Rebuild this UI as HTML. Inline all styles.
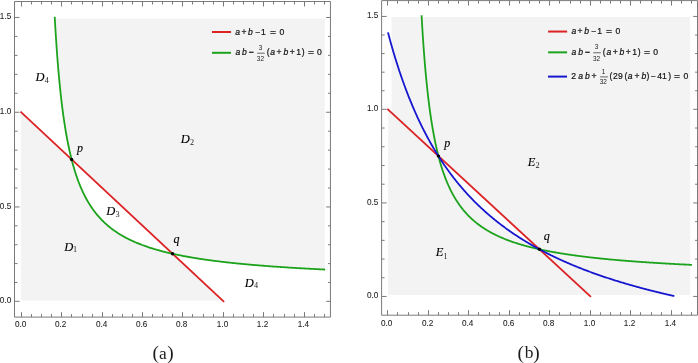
<!DOCTYPE html>
<html><head><meta charset="utf-8"><style>
html,body{margin:0;padding:0;background:#fff;width:698px;height:363px;overflow:hidden}
svg{display:block;will-change:transform}
text.b{stroke:#000;stroke-width:0.12px;fill:#000}
text.l{stroke:#111;stroke-width:0.2px;fill:#111}
text.t{stroke:#1e1e1e;stroke-width:0.08px}
</style></head><body>
<svg width="698" height="363" viewBox="0 0 698 363">
<defs><filter id="bl" x="0" y="0" width="698" height="363" filterUnits="userSpaceOnUse"><feGaussianBlur stdDeviation="0.35"/></filter></defs>
<rect width="698" height="363" fill="#fff"/>
<g filter="url(#bl)">
<path d="M20.90,112.06 L21.41,112.54 L21.91,113.01 L22.42,113.48 L22.93,113.96 L23.43,114.43 L23.94,114.90 L24.45,115.38 L24.95,115.85 L25.46,116.32 L25.97,116.80 L26.47,117.27 L26.98,117.74 L27.49,118.22 L27.99,118.69 L28.50,119.16 L29.01,119.64 L29.52,120.11 L30.02,120.58 L30.53,121.06 L31.04,121.53 L31.54,122.00 L32.05,122.48 L32.56,122.95 L33.06,123.42 L33.57,123.90 L34.08,124.37 L34.58,124.84 L35.09,125.32 L35.60,125.79 L36.10,126.27 L36.61,126.74 L37.12,127.21 L37.62,127.69 L38.13,128.16 L38.64,128.63 L39.14,129.11 L39.65,129.58 L40.16,130.05 L40.66,130.53 L41.17,131.00 L41.68,131.47 L42.18,131.95 L42.69,132.42 L43.20,132.89 L43.70,133.37 L44.21,133.84 L44.72,134.31 L45.22,134.79 L45.73,135.26 L46.24,135.73 L46.75,136.21 L47.25,136.68 L47.76,137.15 L48.27,137.63 L48.77,138.10 L49.28,138.57 L49.79,139.05 L50.29,139.52 L50.80,139.99 L51.31,140.47 L51.81,140.94 L52.32,141.41 L52.83,141.89 L53.33,142.36 L53.84,142.83 L54.35,143.31 L54.85,143.78 L55.36,144.25 L55.87,144.73 L56.37,145.20 L56.88,145.67 L57.39,146.15 L57.89,146.62 L58.40,147.09 L58.91,147.57 L59.41,148.04 L59.92,148.52 L60.43,148.99 L60.93,149.46 L61.44,149.94 L61.95,150.41 L62.45,150.88 L62.96,151.36 L63.47,151.83 L63.98,152.30 L64.48,152.78 L64.99,153.25 L65.50,153.72 L66.00,154.20 L66.51,154.67 L67.02,155.14 L67.52,155.62 L68.03,156.09 L68.54,156.56 L69.04,157.04 L69.55,157.51 L70.06,157.98 L70.56,158.46 L71.07,158.93 L71.58,159.40 L72.08,161.29 L72.59,163.19 L73.10,165.03 L73.60,166.82 L74.11,168.55 L74.62,170.23 L75.12,171.86 L75.63,173.45 L76.14,174.99 L76.64,176.49 L77.15,177.95 L77.66,179.37 L78.16,180.75 L78.67,182.09 L79.18,183.40 L79.68,184.68 L80.19,185.92 L80.70,187.13 L81.21,188.32 L81.71,189.47 L82.22,190.60 L82.73,191.70 L83.23,192.77 L83.74,193.82 L84.25,194.85 L84.75,195.85 L85.26,196.83 L85.77,197.79 L86.27,198.72 L86.78,199.64 L87.29,200.54 L87.79,201.42 L88.30,202.27 L88.81,203.12 L89.31,203.94 L89.82,204.75 L90.33,205.54 L90.83,206.31 L91.34,207.07 L91.85,207.82 L92.35,208.55 L92.86,209.27 L93.37,209.97 L93.87,210.66 L94.38,211.34 L94.89,212.00 L95.39,212.65 L95.90,213.29 L96.41,213.92 L96.92,214.54 L97.42,215.15 L97.93,215.74 L98.44,216.33 L98.94,216.91 L99.45,217.47 L99.96,218.03 L100.46,218.58 L100.97,219.11 L101.48,219.64 L101.98,220.16 L102.49,220.67 L103.00,221.18 L103.50,221.67 L104.01,222.16 L104.52,222.64 L105.02,223.12 L105.53,223.58 L106.04,224.04 L106.54,224.49 L107.05,224.93 L107.56,225.37 L108.06,225.80 L108.57,226.23 L109.08,226.65 L109.58,227.06 L110.09,227.47 L110.60,227.87 L111.10,228.26 L111.61,228.65 L112.12,229.04 L112.62,229.41 L113.13,229.79 L113.64,230.16 L114.15,230.52 L114.65,230.88 L115.16,231.23 L115.67,231.58 L116.17,231.92 L116.68,232.26 L117.19,232.60 L117.69,232.93 L118.20,233.25 L118.71,233.58 L119.21,233.89 L119.72,234.21 L120.23,234.52 L120.73,234.82 L121.24,235.13 L121.75,235.42 L122.25,235.72 L122.76,236.01 L123.27,236.30 L123.77,236.58 L124.28,236.86 L124.79,237.14 L125.29,237.42 L125.80,237.69 L126.31,237.95 L126.81,238.22 L127.32,238.48 L127.83,238.74 L128.33,238.99 L128.84,239.25 L129.35,239.50 L129.85,239.74 L130.36,239.99 L130.87,240.23 L131.38,240.47 L131.88,240.70 L132.39,240.94 L132.90,241.17 L133.40,241.40 L133.91,241.62 L134.42,241.85 L134.92,242.07 L135.43,242.29 L135.94,242.50 L136.44,242.72 L136.95,242.93 L137.46,243.14 L137.96,243.35 L138.47,243.55 L138.98,243.76 L139.48,243.96 L139.99,244.16 L140.50,244.35 L141.00,244.55 L141.51,244.74 L142.02,244.93 L142.52,245.12 L143.03,245.31 L143.54,245.50 L144.04,245.68 L144.55,245.86 L145.06,246.04 L145.56,246.22 L146.07,246.40 L146.58,246.57 L147.08,246.75 L147.59,246.92 L148.10,247.09 L148.61,247.26 L149.11,247.43 L149.62,247.59 L150.13,247.76 L150.63,247.92 L151.14,248.08 L151.65,248.24 L152.15,248.40 L152.66,248.55 L153.17,248.71 L153.67,248.86 L154.18,249.02 L154.69,249.17 L155.19,249.32 L155.70,249.47 L156.21,249.61 L156.71,249.76 L157.22,249.91 L157.73,250.05 L158.23,250.19 L158.74,250.33 L159.25,250.47 L159.75,250.61 L160.26,250.75 L160.77,250.89 L161.27,251.02 L161.78,251.15 L162.29,251.29 L162.79,251.42 L163.30,251.55 L163.81,251.68 L164.32,251.81 L164.82,251.94 L165.33,252.06 L165.84,252.19 L166.34,252.31 L166.85,252.44 L167.36,252.56 L167.86,252.68 L168.37,252.80 L168.88,252.92 L169.38,253.04 L169.89,253.16 L170.40,253.28 L170.90,253.39 L171.41,253.51 L171.92,253.62 L172.42,253.74 L172.93,254.08 L173.44,254.56 L173.94,255.03 L174.45,255.50 L174.96,255.98 L175.46,256.45 L175.97,256.92 L176.48,257.40 L176.98,257.87 L177.49,258.34 L178.00,258.82 L178.50,259.29 L179.01,259.76 L179.52,260.24 L180.02,260.71 L180.53,261.18 L181.04,261.66 L181.55,262.13 L182.05,262.60 L182.56,263.08 L183.07,263.55 L183.57,264.02 L184.08,264.50 L184.59,264.97 L185.09,265.44 L185.60,265.92 L186.11,266.39 L186.61,266.87 L187.12,267.34 L187.63,267.81 L188.13,268.29 L188.64,268.76 L189.15,269.23 L189.65,269.71 L190.16,270.18 L190.67,270.65 L191.17,271.13 L191.68,271.60 L192.19,272.07 L192.69,272.55 L193.20,273.02 L193.71,273.49 L194.21,273.97 L194.72,274.44 L195.23,274.91 L195.73,275.39 L196.24,275.86 L196.75,276.33 L197.25,276.81 L197.76,277.28 L198.27,277.75 L198.78,278.23 L199.28,278.70 L199.79,279.17 L200.30,279.65 L200.80,280.12 L201.31,280.59 L201.82,281.07 L202.32,281.54 L202.83,282.01 L203.34,282.49 L203.84,282.96 L204.35,283.43 L204.86,283.91 L205.36,284.38 L205.87,284.85 L206.38,285.33 L206.88,285.80 L207.39,286.27 L207.90,286.75 L208.40,287.22 L208.91,287.69 L209.42,288.17 L209.92,288.64 L210.43,289.11 L210.94,289.59 L211.44,290.06 L211.95,290.54 L212.46,291.01 L212.96,291.48 L213.47,291.96 L213.98,292.43 L214.48,292.90 L214.99,293.38 L215.50,293.85 L216.01,294.32 L216.51,294.80 L217.02,295.27 L217.53,295.74 L218.03,296.22 L218.54,296.69 L219.05,297.16 L219.55,297.64 L220.06,298.11 L220.57,298.58 L221.07,299.06 L221.58,299.53 L222.09,300.00 L222.59,300.40 L223.10,300.40 L223.10,300.40 L20.90,300.40 Z" fill="#f3f3f3"/>
<path d="M54.79,18.40 L54.79,18.40 L55.47,30.01 L56.15,40.64 L56.82,50.42 L57.50,59.44 L58.18,67.79 L58.85,75.53 L59.53,82.74 L60.21,89.47 L60.88,95.76 L61.56,101.65 L62.24,107.18 L62.91,112.39 L63.59,117.30 L64.26,121.93 L64.94,126.31 L65.62,130.46 L66.29,134.40 L66.97,138.14 L67.65,141.70 L68.32,145.08 L69.00,148.31 L69.68,151.39 L70.35,154.33 L71.03,157.15 L71.71,159.52 L72.38,160.16 L73.06,160.79 L73.74,161.42 L74.41,162.05 L75.09,162.68 L75.76,163.32 L76.44,163.95 L77.12,164.58 L77.79,165.21 L78.47,165.84 L79.15,166.47 L79.82,167.11 L80.50,167.74 L81.18,168.37 L81.85,169.00 L82.53,169.63 L83.21,170.27 L83.88,170.90 L84.56,171.53 L85.23,172.16 L85.91,172.79 L86.59,173.43 L87.26,174.06 L87.94,174.69 L88.62,175.32 L89.29,175.95 L89.97,176.59 L90.65,177.22 L91.32,177.85 L92.00,178.48 L92.68,179.11 L93.35,179.75 L94.03,180.38 L94.71,181.01 L95.38,181.64 L96.06,182.27 L96.73,182.90 L97.41,183.54 L98.09,184.17 L98.76,184.80 L99.44,185.43 L100.12,186.06 L100.79,186.70 L101.47,187.33 L102.15,187.96 L102.82,188.59 L103.50,189.22 L104.18,189.86 L104.85,190.49 L105.53,191.12 L106.21,191.75 L106.88,192.38 L107.56,193.02 L108.23,193.65 L108.91,194.28 L109.59,194.91 L110.26,195.54 L110.94,196.18 L111.62,196.81 L112.29,197.44 L112.97,198.07 L113.65,198.70 L114.32,199.33 L115.00,199.97 L115.68,200.60 L116.35,201.23 L117.03,201.86 L117.70,202.49 L118.38,203.13 L119.06,203.76 L119.73,204.39 L120.41,205.02 L121.09,205.65 L121.76,206.29 L122.44,206.92 L123.12,207.55 L123.79,208.18 L124.47,208.81 L125.15,209.45 L125.82,210.08 L126.50,210.71 L127.18,211.34 L127.85,211.97 L128.53,212.60 L129.20,213.24 L129.88,213.87 L130.56,214.50 L131.23,215.13 L131.91,215.76 L132.59,216.40 L133.26,217.03 L133.94,217.66 L134.62,218.29 L135.29,218.92 L135.97,219.56 L136.65,220.19 L137.32,220.82 L138.00,221.45 L138.67,222.08 L139.35,222.72 L140.03,223.35 L140.70,223.98 L141.38,224.61 L142.06,225.24 L142.73,225.88 L143.41,226.51 L144.09,227.14 L144.76,227.77 L145.44,228.40 L146.12,229.03 L146.79,229.67 L147.47,230.30 L148.15,230.93 L148.82,231.56 L149.50,232.19 L150.17,232.83 L150.85,233.46 L151.53,234.09 L152.20,234.72 L152.88,235.35 L153.56,235.99 L154.23,236.62 L154.91,237.25 L155.59,237.88 L156.26,238.51 L156.94,239.15 L157.62,239.78 L158.29,240.41 L158.97,241.04 L159.64,241.67 L160.32,242.30 L161.00,242.94 L161.67,243.57 L162.35,244.20 L163.03,244.83 L163.70,245.46 L164.38,246.10 L165.06,246.73 L165.73,247.36 L166.41,247.99 L167.09,248.62 L167.76,249.26 L168.44,249.89 L169.12,250.52 L169.79,251.15 L170.47,251.78 L171.14,252.42 L171.82,253.05 L172.50,253.68 L173.17,253.90 L173.85,254.05 L174.53,254.20 L175.20,254.34 L175.88,254.49 L176.56,254.63 L177.23,254.77 L177.91,254.91 L178.59,255.05 L179.26,255.19 L179.94,255.32 L180.62,255.46 L181.29,255.59 L181.97,255.72 L182.64,255.85 L183.32,255.98 L184.00,256.11 L184.67,256.24 L185.35,256.36 L186.03,256.49 L186.70,256.61 L187.38,256.73 L188.06,256.85 L188.73,256.97 L189.41,257.09 L190.09,257.21 L190.76,257.33 L191.44,257.44 L192.11,257.56 L192.79,257.67 L193.47,257.79 L194.14,257.90 L194.82,258.01 L195.50,258.12 L196.17,258.23 L196.85,258.33 L197.53,258.44 L198.20,258.55 L198.88,258.65 L199.56,258.76 L200.23,258.86 L200.91,258.96 L201.59,259.07 L202.26,259.17 L202.94,259.27 L203.61,259.37 L204.29,259.46 L204.97,259.56 L205.64,259.66 L206.32,259.75 L207.00,259.85 L207.67,259.94 L208.35,260.04 L209.03,260.13 L209.70,260.22 L210.38,260.31 L211.06,260.40 L211.73,260.49 L212.41,260.58 L213.08,260.67 L213.76,260.76 L214.44,260.85 L215.11,260.93 L215.79,261.02 L216.47,261.11 L217.14,261.19 L217.82,261.27 L218.50,261.36 L219.17,261.44 L219.85,261.52 L220.53,261.60 L221.20,261.68 L221.88,261.77 L222.56,261.84 L223.23,261.92 L223.91,262.00 L224.58,262.08 L225.26,262.16 L225.94,262.23 L226.61,262.31 L227.29,262.39 L227.97,262.46 L228.64,262.54 L229.32,262.61 L230.00,262.68 L230.67,262.76 L231.35,262.83 L232.03,262.90 L232.70,262.97 L233.38,263.04 L234.06,263.11 L234.73,263.18 L235.41,263.25 L236.08,263.32 L236.76,263.39 L237.44,263.46 L238.11,263.53 L238.79,263.59 L239.47,263.66 L240.14,263.73 L240.82,263.79 L241.50,263.86 L242.17,263.92 L242.85,263.99 L243.53,264.05 L244.20,264.12 L244.88,264.18 L245.55,264.24 L246.23,264.30 L246.91,264.37 L247.58,264.43 L248.26,264.49 L248.94,264.55 L249.61,264.61 L250.29,264.67 L250.97,264.73 L251.64,264.79 L252.32,264.85 L253.00,264.91 L253.67,264.96 L254.35,265.02 L255.03,265.08 L255.70,265.14 L256.38,265.19 L257.05,265.25 L257.73,265.31 L258.41,265.36 L259.08,265.42 L259.76,265.47 L260.44,265.53 L261.11,265.58 L261.79,265.63 L262.47,265.69 L263.14,265.74 L263.82,265.79 L264.50,265.85 L265.17,265.90 L265.85,265.95 L266.52,266.00 L267.20,266.05 L267.88,266.10 L268.55,266.16 L269.23,266.21 L269.91,266.26 L270.58,266.31 L271.26,266.36 L271.94,266.40 L272.61,266.45 L273.29,266.50 L273.97,266.55 L274.64,266.60 L275.32,266.65 L276.00,266.69 L276.67,266.74 L277.35,266.79 L278.02,266.84 L278.70,266.88 L279.38,266.93 L280.05,266.97 L280.73,267.02 L281.41,267.07 L282.08,267.11 L282.76,267.16 L283.44,267.20 L284.11,267.25 L284.79,267.29 L285.47,267.33 L286.14,267.38 L286.82,267.42 L287.49,267.46 L288.17,267.51 L288.85,267.55 L289.52,267.59 L290.20,267.64 L290.88,267.68 L291.55,267.72 L292.23,267.76 L292.91,267.80 L293.58,267.84 L294.26,267.88 L294.94,267.93 L295.61,267.97 L296.29,268.01 L296.97,268.05 L297.64,268.09 L298.32,268.13 L298.99,268.17 L299.67,268.21 L300.35,268.24 L301.02,268.28 L301.70,268.32 L302.38,268.36 L303.05,268.40 L303.73,268.44 L304.41,268.48 L305.08,268.51 L305.76,268.55 L306.44,268.59 L307.11,268.62 L307.79,268.66 L308.47,268.70 L309.14,268.74 L309.82,268.77 L310.49,268.81 L311.17,268.84 L311.85,268.88 L312.52,268.92 L313.20,268.95 L313.88,268.99 L314.55,269.02 L315.23,269.06 L315.91,269.09 L316.58,269.13 L317.26,269.16 L317.94,269.19 L318.61,269.23 L319.29,269.26 L319.96,269.30 L320.64,269.33 L321.32,269.36 L321.99,269.40 L322.67,269.43 L323.35,269.46 L324.02,269.50 L324.70,269.53 L324.70,18.40 Z" fill="#f3f3f3"/>
<path d="M388.00,109.55 L388.51,110.01 L389.01,110.48 L389.52,110.95 L390.02,111.41 L390.53,111.88 L391.04,112.35 L391.54,112.82 L392.05,113.28 L392.56,113.75 L393.06,114.22 L393.57,114.68 L394.07,115.15 L394.58,115.62 L395.09,116.08 L395.59,116.55 L396.10,117.02 L396.60,117.49 L397.11,117.95 L397.62,118.42 L398.12,118.89 L398.63,119.35 L399.14,119.82 L399.64,120.29 L400.15,120.76 L400.65,121.22 L401.16,121.69 L401.67,122.16 L402.17,122.62 L402.68,123.09 L403.18,123.56 L403.69,124.02 L404.20,124.49 L404.70,124.96 L405.21,125.43 L405.71,125.89 L406.22,126.36 L406.73,126.83 L407.23,127.29 L407.74,127.76 L408.25,128.23 L408.75,128.70 L409.26,129.16 L409.76,129.63 L410.27,130.10 L410.78,130.56 L411.28,131.03 L411.79,131.50 L412.29,131.96 L412.80,132.43 L413.31,132.90 L413.81,133.37 L414.32,133.83 L414.83,134.30 L415.33,134.77 L415.84,135.23 L416.34,135.70 L416.85,136.17 L417.36,136.64 L417.86,137.10 L418.37,137.57 L418.87,138.04 L419.38,138.50 L419.89,138.97 L420.39,139.44 L420.90,139.90 L421.41,140.37 L421.91,140.84 L422.42,141.31 L422.92,141.77 L423.43,142.24 L423.94,142.71 L424.44,143.17 L424.95,143.64 L425.45,144.11 L425.96,144.58 L426.47,145.04 L426.97,145.51 L427.48,145.98 L427.99,146.44 L428.49,146.91 L429.00,147.38 L429.50,147.84 L430.01,148.31 L430.52,148.78 L431.02,149.25 L431.53,149.71 L432.03,150.18 L432.54,150.65 L433.05,151.11 L433.55,151.58 L434.06,152.05 L434.56,152.51 L435.07,152.98 L435.58,153.45 L436.08,153.92 L436.59,154.38 L437.10,154.85 L437.60,155.32 L438.11,155.78 L438.61,156.36 L439.12,157.15 L439.63,157.94 L440.13,158.73 L440.64,159.50 L441.14,160.28 L441.65,161.04 L442.16,161.80 L442.66,162.56 L443.17,163.31 L443.68,164.06 L444.18,164.80 L444.69,165.53 L445.19,166.27 L445.70,166.99 L446.21,167.71 L446.71,168.43 L447.22,169.14 L447.72,169.85 L448.23,170.55 L448.74,171.25 L449.24,171.94 L449.75,172.63 L450.26,173.31 L450.76,173.99 L451.27,174.66 L451.77,175.33 L452.28,176.00 L452.79,176.66 L453.29,177.32 L453.80,177.97 L454.30,178.62 L454.81,179.26 L455.32,179.90 L455.82,180.54 L456.33,181.17 L456.84,181.80 L457.34,182.43 L457.85,183.05 L458.35,183.66 L458.86,184.28 L459.37,184.89 L459.87,185.49 L460.38,186.09 L460.88,186.69 L461.39,187.29 L461.90,187.88 L462.40,188.46 L462.91,189.05 L463.41,189.63 L463.92,190.20 L464.43,190.78 L464.93,191.34 L465.44,191.91 L465.95,192.47 L466.45,193.03 L466.96,193.59 L467.46,194.14 L467.97,194.69 L468.48,195.24 L468.98,195.78 L469.49,196.32 L469.99,196.86 L470.50,197.39 L471.01,197.92 L471.51,198.45 L472.02,198.97 L472.53,199.49 L473.03,200.01 L473.54,200.53 L474.04,201.04 L474.55,201.55 L475.06,202.06 L475.56,202.56 L476.07,203.06 L476.57,203.56 L477.08,204.05 L477.59,204.55 L478.09,205.04 L478.60,205.52 L479.11,206.01 L479.61,206.49 L480.12,206.97 L480.62,207.44 L481.13,207.92 L481.64,208.39 L482.14,208.86 L482.65,209.32 L483.15,209.79 L483.66,210.25 L484.17,210.71 L484.67,211.16 L485.18,211.62 L485.69,212.07 L486.19,212.52 L486.70,212.96 L487.20,213.41 L487.71,213.85 L488.22,214.29 L488.72,214.73 L489.23,215.16 L489.73,215.59 L490.24,216.02 L490.75,216.45 L491.25,216.88 L491.76,217.30 L492.26,217.72 L492.77,218.14 L493.28,218.56 L493.78,218.97 L494.29,219.39 L494.80,219.80 L495.30,220.21 L495.81,220.61 L496.31,221.02 L496.82,221.42 L497.33,221.82 L497.83,222.22 L498.34,222.62 L498.84,223.01 L499.35,223.40 L499.86,223.79 L500.36,224.18 L500.87,224.57 L501.38,224.95 L501.88,225.34 L502.39,225.72 L502.89,226.10 L503.40,226.47 L503.91,226.85 L504.41,227.22 L504.92,227.59 L505.42,227.96 L505.93,228.33 L506.44,228.70 L506.94,229.06 L507.45,229.43 L507.96,229.79 L508.46,230.15 L508.97,230.50 L509.47,230.86 L509.98,231.21 L510.49,231.57 L510.99,231.92 L511.50,232.27 L512.00,232.61 L512.51,232.96 L513.02,233.31 L513.52,233.65 L514.03,233.99 L514.54,234.33 L515.04,234.67 L515.55,235.00 L516.05,235.34 L516.56,235.67 L517.07,236.00 L517.57,236.33 L518.08,236.66 L518.58,236.99 L519.09,237.32 L519.60,237.64 L520.10,237.96 L520.61,238.29 L521.11,238.61 L521.62,238.92 L522.13,239.24 L522.63,239.56 L523.14,239.87 L523.65,240.18 L524.15,240.50 L524.66,240.81 L525.16,241.11 L525.67,241.42 L526.18,241.73 L526.68,242.03 L527.19,242.34 L527.69,242.64 L528.20,242.94 L528.71,243.24 L529.21,243.54 L529.72,243.83 L530.23,244.13 L530.73,244.42 L531.24,244.72 L531.74,245.01 L532.25,245.30 L532.76,245.59 L533.26,245.88 L533.77,246.16 L534.27,246.45 L534.78,246.73 L535.29,247.02 L535.79,247.30 L536.30,247.58 L536.81,247.86 L537.31,248.14 L537.82,248.41 L538.32,248.69 L538.83,248.96 L539.34,249.24 L539.84,249.66 L540.35,250.13 L540.85,250.60 L541.36,251.06 L541.87,251.53 L542.37,252.00 L542.88,252.46 L543.39,252.93 L543.89,253.40 L544.40,253.87 L544.90,254.33 L545.41,254.80 L545.92,255.27 L546.42,255.73 L546.93,256.20 L547.43,256.67 L547.94,257.13 L548.45,257.60 L548.95,258.07 L549.46,258.54 L549.96,259.00 L550.47,259.47 L550.98,259.94 L551.48,260.40 L551.99,260.87 L552.50,261.34 L553.00,261.81 L553.51,262.27 L554.01,262.74 L554.52,263.21 L555.03,263.67 L555.53,264.14 L556.04,264.61 L556.54,265.07 L557.05,265.54 L557.56,266.01 L558.06,266.48 L558.57,266.94 L559.08,267.41 L559.58,267.88 L560.09,268.34 L560.59,268.81 L561.10,269.28 L561.61,269.75 L562.11,270.21 L562.62,270.68 L563.12,271.15 L563.63,271.61 L564.14,272.08 L564.64,272.55 L565.15,273.01 L565.66,273.48 L566.16,273.95 L566.67,274.42 L567.17,274.88 L567.68,275.35 L568.19,275.82 L568.69,276.28 L569.20,276.75 L569.70,277.22 L570.21,277.68 L570.72,278.15 L571.22,278.62 L571.73,279.09 L572.24,279.55 L572.74,280.02 L573.25,280.49 L573.75,280.95 L574.26,281.42 L574.77,281.89 L575.27,282.36 L575.78,282.82 L576.28,283.29 L576.79,283.76 L577.30,284.22 L577.80,284.69 L578.31,285.16 L578.81,285.62 L579.32,286.09 L579.83,286.56 L580.33,287.03 L580.84,287.49 L581.35,287.96 L581.85,288.43 L582.36,288.89 L582.86,289.36 L583.37,289.83 L583.88,290.30 L584.38,290.76 L584.89,291.23 L585.39,291.70 L585.90,292.16 L586.41,292.63 L586.91,293.10 L587.42,293.56 L587.93,294.03 L588.43,294.50 L588.94,294.90 L589.44,294.90 L589.95,294.90 L589.95,294.90 L388.00,294.90 Z" fill="#f3f3f3"/>
<path d="M391.60,17.00 L391.60,112.87 L392.35,113.56 L393.10,114.25 L393.85,114.94 L394.59,115.63 L395.34,116.32 L396.09,117.01 L396.84,117.70 L397.59,118.39 L398.34,119.08 L399.08,119.77 L399.83,120.46 L400.58,121.16 L401.33,121.85 L402.08,122.54 L402.83,123.23 L403.57,123.92 L404.32,124.61 L405.07,125.30 L405.82,125.99 L406.57,126.68 L407.32,127.37 L408.06,128.06 L408.81,128.75 L409.56,129.44 L410.31,130.13 L411.06,130.82 L411.81,131.51 L412.55,132.20 L413.30,132.89 L414.05,133.59 L414.80,134.28 L415.55,134.97 L416.30,135.66 L417.04,136.35 L417.79,137.04 L418.54,137.73 L419.29,138.42 L420.04,139.11 L420.79,139.80 L421.53,140.49 L422.28,141.18 L423.03,141.87 L423.78,142.56 L424.53,143.25 L425.28,143.94 L426.03,144.63 L426.77,145.33 L427.52,146.02 L428.27,146.71 L429.02,147.40 L429.77,148.09 L430.52,148.78 L431.26,149.47 L432.01,150.16 L432.76,150.85 L433.51,151.54 L434.26,152.23 L435.01,152.92 L435.75,153.61 L436.50,154.30 L437.25,154.99 L438.00,155.68 L438.75,156.37 L439.50,157.06 L440.24,157.76 L440.99,158.45 L441.74,159.14 L442.49,159.83 L443.24,160.52 L443.99,161.21 L444.73,161.90 L445.48,162.59 L446.23,163.28 L446.98,163.97 L447.73,164.66 L448.48,165.35 L449.22,166.04 L449.97,166.73 L450.72,167.42 L451.47,168.11 L452.22,168.80 L452.97,169.50 L453.71,170.19 L454.46,170.88 L455.21,171.57 L455.96,172.26 L456.71,172.95 L457.46,173.64 L458.21,174.33 L458.95,175.02 L459.70,175.71 L460.45,176.40 L461.20,177.09 L461.95,177.78 L462.70,178.47 L463.44,179.16 L464.19,179.85 L464.94,180.54 L465.69,181.24 L466.44,181.93 L467.19,182.62 L467.93,183.31 L468.68,184.00 L469.43,184.69 L470.18,185.38 L470.93,186.07 L471.68,186.76 L472.42,187.45 L473.17,188.14 L473.92,188.83 L474.67,189.52 L475.42,190.21 L476.17,190.90 L476.91,191.59 L477.66,192.28 L478.41,192.97 L479.16,193.67 L479.91,194.36 L480.66,195.05 L481.40,195.74 L482.15,196.43 L482.90,197.12 L483.65,197.81 L484.40,198.50 L485.15,199.19 L485.89,199.88 L486.64,200.57 L487.39,201.26 L488.14,201.95 L488.89,202.64 L489.64,203.33 L490.38,204.02 L491.13,204.71 L491.88,205.41 L492.63,206.10 L493.38,206.79 L494.13,207.48 L494.88,208.17 L495.62,208.86 L496.37,209.55 L497.12,210.24 L497.87,210.93 L498.62,211.62 L499.37,212.31 L500.11,213.00 L500.86,213.69 L501.61,214.38 L502.36,215.07 L503.11,215.76 L503.86,216.45 L504.60,217.15 L505.35,217.84 L506.10,218.53 L506.85,219.22 L507.60,219.91 L508.35,220.60 L509.09,221.29 L509.84,221.98 L510.59,222.67 L511.34,223.36 L512.09,224.05 L512.84,224.74 L513.58,225.43 L514.33,226.12 L515.08,226.81 L515.83,227.50 L516.58,228.19 L517.33,228.88 L518.07,229.58 L518.82,230.27 L519.57,230.96 L520.32,231.65 L521.07,232.34 L521.82,233.03 L522.56,233.72 L523.31,234.41 L524.06,235.10 L524.81,235.79 L525.56,236.48 L526.31,237.17 L527.06,237.86 L527.80,238.55 L528.55,239.24 L529.30,239.93 L530.05,240.62 L530.80,241.32 L531.55,242.01 L532.29,242.70 L533.04,243.39 L533.79,244.08 L534.54,244.77 L535.29,245.46 L536.04,246.15 L536.78,246.84 L537.53,247.53 L538.28,248.22 L539.03,248.91 L539.78,249.60 L540.53,250.29 L541.27,250.98 L542.02,251.67 L542.77,252.36 L543.52,253.06 L544.27,253.75 L545.02,254.44 L545.76,255.13 L546.51,255.82 L547.26,256.51 L548.01,257.20 L548.76,257.89 L549.51,258.58 L550.25,259.27 L551.00,259.96 L551.75,260.65 L552.50,261.34 L553.25,262.03 L554.00,262.72 L554.74,263.41 L555.49,264.10 L556.24,264.79 L556.99,265.49 L557.74,266.18 L558.49,266.87 L559.24,267.56 L559.98,268.25 L560.73,268.94 L561.48,269.63 L562.23,270.32 L562.98,271.01 L563.73,271.70 L564.47,272.39 L565.22,273.08 L565.97,273.77 L566.72,274.46 L567.47,275.15 L568.22,275.84 L568.96,276.53 L569.71,277.23 L570.46,277.92 L571.21,278.61 L571.96,279.30 L572.71,279.99 L573.45,280.68 L574.20,281.37 L574.95,282.06 L575.70,282.75 L576.45,283.44 L577.20,284.13 L577.94,284.82 L578.69,285.51 L579.44,286.20 L580.19,286.89 L580.94,287.58 L581.69,288.27 L582.43,288.96 L583.18,289.66 L583.93,290.35 L584.68,291.04 L585.43,291.73 L586.18,292.42 L586.92,293.11 L587.67,293.80 L588.42,294.49 L589.17,294.90 L589.92,294.90 L590.67,294.90 L591.42,294.90 L592.16,294.90 L592.91,294.90 L593.66,294.90 L594.41,294.90 L595.16,294.90 L595.91,294.90 L596.65,294.90 L597.40,294.90 L598.15,294.90 L598.90,294.90 L599.65,294.90 L600.40,294.90 L601.14,294.90 L601.89,294.90 L602.64,294.90 L603.39,294.90 L604.14,294.90 L604.89,294.90 L605.63,294.90 L606.38,294.90 L607.13,294.90 L607.88,294.90 L608.63,294.90 L609.38,294.90 L610.12,294.90 L610.87,294.90 L611.62,294.90 L612.37,294.90 L613.12,294.90 L613.87,294.90 L614.61,294.90 L615.36,294.90 L616.11,294.90 L616.86,294.90 L617.61,294.90 L618.36,294.90 L619.10,294.90 L619.85,294.90 L620.60,294.90 L621.35,294.90 L622.10,294.90 L622.85,294.90 L623.59,294.90 L624.34,294.90 L625.09,294.90 L625.84,294.90 L626.59,294.90 L627.34,294.90 L628.09,294.90 L628.83,294.90 L629.58,294.90 L630.33,294.90 L631.08,294.90 L631.83,294.90 L632.58,294.90 L633.32,294.90 L634.07,294.90 L634.82,294.90 L635.57,294.90 L636.32,294.90 L637.07,294.90 L637.81,294.90 L638.56,294.90 L639.31,294.90 L640.06,294.90 L640.81,294.90 L641.56,294.90 L642.30,294.90 L643.05,294.90 L643.80,294.90 L644.55,294.90 L645.30,294.90 L646.05,294.90 L646.79,294.90 L647.54,294.90 L648.29,294.90 L649.04,294.90 L649.79,294.90 L650.54,294.90 L651.28,294.90 L652.03,294.90 L652.78,294.90 L653.53,294.90 L654.28,294.90 L655.03,294.90 L655.77,294.90 L656.52,294.90 L657.27,294.90 L658.02,294.90 L658.77,294.90 L659.52,294.90 L660.27,294.90 L661.01,294.90 L661.76,294.90 L662.51,294.90 L663.26,294.90 L664.01,294.90 L664.76,294.90 L665.50,294.90 L666.25,294.90 L667.00,294.90 L667.75,294.90 L668.50,294.90 L669.25,294.90 L669.99,294.90 L670.74,294.90 L671.49,294.90 L672.24,294.90 L672.99,294.90 L673.74,294.90 L674.48,294.90 L675.23,294.90 L675.98,294.90 L676.73,294.90 L677.48,294.90 L678.23,294.90 L678.97,294.90 L679.72,294.90 L680.47,294.90 L681.22,294.90 L681.97,294.90 L682.72,294.90 L683.46,294.90 L684.21,294.90 L684.96,294.90 L685.71,294.90 L686.46,294.90 L687.21,294.90 L687.95,294.90 L688.70,294.90 L689.45,294.90 L690.20,294.90 L690.20,17.00 Z" fill="#f3f3f3"/>
<path d="M14.5,1.5 L330.45,1.5 L330.45,317.1 L14.5,317.1 Z M21.50,317.1 V312.10 M21.50,1.5 V6.50 M31.50,317.1 V314.10 M31.50,1.5 V4.50 M41.50,317.1 V314.10 M41.50,1.5 V4.50 M51.50,317.1 V314.10 M51.50,1.5 V4.50 M61.50,317.1 V312.10 M61.50,1.5 V6.50 M71.50,317.1 V314.10 M71.50,1.5 V4.50 M82.50,317.1 V314.10 M82.50,1.5 V4.50 M92.50,317.1 V314.10 M92.50,1.5 V4.50 M102.50,317.1 V312.10 M102.50,1.5 V6.50 M112.50,317.1 V314.10 M112.50,1.5 V4.50 M122.50,317.1 V314.10 M122.50,1.5 V4.50 M132.50,317.1 V314.10 M132.50,1.5 V4.50 M142.50,317.1 V312.10 M142.50,1.5 V6.50 M152.50,317.1 V314.10 M152.50,1.5 V4.50 M162.50,317.1 V314.10 M162.50,1.5 V4.50 M172.50,317.1 V314.10 M172.50,1.5 V4.50 M182.50,317.1 V312.10 M182.50,1.5 V6.50 M192.50,317.1 V314.10 M192.50,1.5 V4.50 M203.50,317.1 V314.10 M203.50,1.5 V4.50 M213.50,317.1 V314.10 M213.50,1.5 V4.50 M223.50,317.1 V312.10 M223.50,1.5 V6.50 M233.50,317.1 V314.10 M233.50,1.5 V4.50 M243.50,317.1 V314.10 M243.50,1.5 V4.50 M253.50,317.1 V314.10 M253.50,1.5 V4.50 M263.50,317.1 V312.10 M263.50,1.5 V6.50 M273.50,317.1 V314.10 M273.50,1.5 V4.50 M284.50,317.1 V314.10 M284.50,1.5 V4.50 M294.50,317.1 V314.10 M294.50,1.5 V4.50 M304.50,317.1 V312.10 M304.50,1.5 V6.50 M314.50,317.1 V314.10 M314.50,1.5 V4.50 M324.50,317.1 V314.10 M324.50,1.5 V4.50 M14.5,301.35 H19.50 M330.45,301.35 H326.15 M14.5,282.47 H17.50 M330.45,282.47 H328.05 M14.5,263.59 H17.50 M330.45,263.59 H328.05 M14.5,244.71 H17.50 M330.45,244.71 H328.05 M14.5,225.83 H17.50 M330.45,225.83 H328.05 M14.5,206.95 H19.50 M330.45,206.95 H326.15 M14.5,188.02 H17.50 M330.45,188.02 H328.05 M14.5,169.08 H17.50 M330.45,169.08 H328.05 M14.5,150.15 H17.50 M330.45,150.15 H328.05 M14.5,131.21 H17.50 M330.45,131.21 H328.05 M14.5,112.28 H19.50 M330.45,112.28 H326.15 M14.5,93.31 H17.50 M330.45,93.31 H328.05 M14.5,74.35 H17.50 M330.45,74.35 H328.05 M14.5,55.38 H17.50 M330.45,55.38 H328.05 M14.5,36.42 H17.50 M330.45,36.42 H328.05 M14.5,17.45 H19.50 M330.45,17.45 H326.15" fill="none" stroke="#7a7a7a" stroke-width="1"/>
<path d="M381.6,0.6 L697.5,0.6 L697.5,315.2 L381.6,315.2 Z M387.50,315.2 V310.20 M387.50,0.6 V5.60 M397.50,315.2 V312.20 M397.50,0.6 V3.60 M408.50,315.2 V312.20 M408.50,0.6 V3.60 M418.50,315.2 V312.20 M418.50,0.6 V3.60 M428.50,315.2 V310.20 M428.50,0.6 V5.60 M438.50,315.2 V312.20 M438.50,0.6 V3.60 M448.50,315.2 V312.20 M448.50,0.6 V3.60 M458.50,315.2 V312.20 M458.50,0.6 V3.60 M468.50,315.2 V310.20 M468.50,0.6 V5.60 M478.50,315.2 V312.20 M478.50,0.6 V3.60 M489.50,315.2 V312.20 M489.50,0.6 V3.60 M499.50,315.2 V312.20 M499.50,0.6 V3.60 M509.50,315.2 V310.20 M509.50,0.6 V5.60 M519.50,315.2 V312.20 M519.50,0.6 V3.60 M529.50,315.2 V312.20 M529.50,0.6 V3.60 M539.50,315.2 V312.20 M539.50,0.6 V3.60 M549.50,315.2 V310.20 M549.50,0.6 V5.60 M559.50,315.2 V312.20 M559.50,0.6 V3.60 M570.50,315.2 V312.20 M570.50,0.6 V3.60 M580.50,315.2 V312.20 M580.50,0.6 V3.60 M590.50,315.2 V310.20 M590.50,0.6 V5.60 M600.50,315.2 V312.20 M600.50,0.6 V3.60 M610.50,315.2 V312.20 M610.50,0.6 V3.60 M620.50,315.2 V312.20 M620.50,0.6 V3.60 M630.50,315.2 V310.20 M630.50,0.6 V5.60 M640.50,315.2 V312.20 M640.50,0.6 V3.60 M651.50,315.2 V312.20 M651.50,0.6 V3.60 M661.50,315.2 V312.20 M661.50,0.6 V3.60 M671.50,315.2 V310.20 M671.50,0.6 V5.60 M681.50,315.2 V312.20 M681.50,0.6 V3.60 M691.50,315.2 V312.20 M691.50,0.6 V3.60 M381.6,296.45 H386.60 M697.5,296.45 H693.20 M381.6,277.75 H384.60 M697.5,277.75 H695.10 M381.6,259.05 H384.60 M697.5,259.05 H695.10 M381.6,240.35 H384.60 M697.5,240.35 H695.10 M381.6,221.65 H384.60 M697.5,221.65 H695.10 M381.6,202.95 H386.60 M697.5,202.95 H693.20 M381.6,184.22 H384.60 M697.5,184.22 H695.10 M381.6,165.49 H384.60 M697.5,165.49 H695.10 M381.6,146.76 H384.60 M697.5,146.76 H695.10 M381.6,128.03 H384.60 M697.5,128.03 H695.10 M381.6,109.30 H386.60 M697.5,109.30 H693.20 M381.6,90.73 H384.60 M697.5,90.73 H695.10 M381.6,72.16 H384.60 M697.5,72.16 H695.10 M381.6,53.59 H384.60 M697.5,53.59 H695.10 M381.6,35.02 H384.60 M697.5,35.02 H695.10 M381.6,16.45 H386.60 M697.5,16.45 H693.20" fill="none" stroke="#7a7a7a" stroke-width="1"/>
<path d="M20.49,111.68 L224.11,301.89" fill="none" stroke="#dc2024" stroke-width="1.8" stroke-linejoin="round"/>
<path d="M54.70,16.77 L55.38,28.54 L56.06,39.31 L56.74,49.21 L57.41,58.34 L58.09,66.78 L58.77,74.61 L59.45,81.90 L60.13,88.69 L60.80,95.04 L61.48,100.99 L62.16,106.57 L62.84,111.83 L63.51,116.77 L64.19,121.45 L64.87,125.86 L65.55,130.04 L66.23,134.01 L66.90,137.77 L67.58,141.35 L68.26,144.76 L68.94,148.01 L69.61,151.11 L70.29,154.07 L70.97,156.90 L71.65,159.61 L72.32,162.20 L73.00,164.69 L73.68,167.08 L74.36,169.38 L75.04,171.58 L75.71,173.70 L76.39,175.74 L77.07,177.71 L77.75,179.61 L78.42,181.44 L79.10,183.21 L79.78,184.91 L80.46,186.56 L81.13,188.16 L81.81,189.70 L82.49,191.19 L83.17,192.64 L83.85,194.04 L84.52,195.40 L85.20,196.72 L85.88,198.00 L86.56,199.24 L87.23,200.45 L87.91,201.62 L88.59,202.76 L89.27,203.87 L89.94,204.94 L90.62,205.99 L91.30,207.01 L91.98,208.01 L92.66,208.98 L93.33,209.92 L94.01,210.84 L94.69,211.74 L95.37,212.62 L96.04,213.47 L96.72,214.31 L97.40,215.12 L98.08,215.92 L98.76,216.69 L99.43,217.45 L100.11,218.20 L100.79,218.92 L101.47,219.63 L102.14,220.33 L102.82,221.01 L103.50,221.67 L104.18,222.32 L104.85,222.96 L105.53,223.58 L106.21,224.19 L106.89,224.79 L107.57,225.38 L108.24,225.95 L108.92,226.52 L109.60,227.07 L110.28,227.61 L110.95,228.14 L111.63,228.67 L112.31,229.18 L112.99,229.68 L113.66,230.17 L114.34,230.66 L115.02,231.13 L115.70,231.60 L116.38,232.06 L117.05,232.51 L117.73,232.95 L118.41,233.39 L119.09,233.82 L119.76,234.24 L120.44,234.65 L121.12,235.05 L121.80,235.45 L122.47,235.85 L123.15,236.23 L123.83,236.61 L124.51,236.99 L125.19,237.36 L125.86,237.72 L126.54,238.08 L127.22,238.43 L127.90,238.77 L128.57,239.11 L129.25,239.45 L129.93,239.78 L130.61,240.10 L131.29,240.43 L131.96,240.74 L132.64,241.05 L133.32,241.36 L134.00,241.66 L134.67,241.96 L135.35,242.25 L136.03,242.54 L136.71,242.83 L137.38,243.11 L138.06,243.39 L138.74,243.66 L139.42,243.93 L140.10,244.20 L140.77,244.46 L141.45,244.72 L142.13,244.97 L142.81,245.23 L143.48,245.48 L144.16,245.72 L144.84,245.96 L145.52,246.20 L146.19,246.44 L146.87,246.67 L147.55,246.91 L148.23,247.13 L148.91,247.36 L149.58,247.58 L150.26,247.80 L150.94,248.02 L151.62,248.23 L152.29,248.44 L152.97,248.65 L153.65,248.86 L154.33,249.06 L155.01,249.26 L155.68,249.46 L156.36,249.66 L157.04,249.85 L157.72,250.05 L158.39,250.24 L159.07,250.42 L159.75,250.61 L160.43,250.79 L161.10,250.98 L161.78,251.16 L162.46,251.33 L163.14,251.51 L163.82,251.68 L164.49,251.85 L165.17,252.02 L165.85,252.19 L166.53,252.36 L167.20,252.52 L167.88,252.69 L168.56,252.85 L169.24,253.01 L169.91,253.17 L170.59,253.32 L171.27,253.48 L171.95,253.63 L172.63,253.78 L173.30,253.93 L173.98,254.08 L174.66,254.23 L175.34,254.37 L176.01,254.52 L176.69,254.66 L177.37,254.80 L178.05,254.94 L178.72,255.08 L179.40,255.21 L180.08,255.35 L180.76,255.48 L181.44,255.62 L182.11,255.75 L182.79,255.88 L183.47,256.01 L184.15,256.14 L184.82,256.26 L185.50,256.39 L186.18,256.51 L186.86,256.64 L187.54,256.76 L188.21,256.88 L188.89,257.00 L189.57,257.12 L190.25,257.24 L190.92,257.36 L191.60,257.47 L192.28,257.59 L192.96,257.70 L193.63,257.81 L194.31,257.92 L194.99,258.04 L195.67,258.15 L196.35,258.25 L197.02,258.36 L197.70,258.47 L198.38,258.58 L199.06,258.68 L199.73,258.78 L200.41,258.89 L201.09,258.99 L201.77,259.09 L202.44,259.19 L203.12,259.29 L203.80,259.39 L204.48,259.49 L205.16,259.59 L205.83,259.69 L206.51,259.78 L207.19,259.88 L207.87,259.97 L208.54,260.06 L209.22,260.16 L209.90,260.25 L210.58,260.34 L211.25,260.43 L211.93,260.52 L212.61,260.61 L213.29,260.70 L213.97,260.79 L214.64,260.87 L215.32,260.96 L216.00,261.05 L216.68,261.13 L217.35,261.22 L218.03,261.30 L218.71,261.38 L219.39,261.47 L220.07,261.55 L220.74,261.63 L221.42,261.71 L222.10,261.79 L222.78,261.87 L223.45,261.95 L224.13,262.03 L224.81,262.11 L225.49,262.18 L226.16,262.26 L226.84,262.34 L227.52,262.41 L228.20,262.49 L228.88,262.56 L229.55,262.64 L230.23,262.71 L230.91,262.78 L231.59,262.85 L232.26,262.93 L232.94,263.00 L233.62,263.07 L234.30,263.14 L234.97,263.21 L235.65,263.28 L236.33,263.35 L237.01,263.42 L237.69,263.48 L238.36,263.55 L239.04,263.62 L239.72,263.69 L240.40,263.75 L241.07,263.82 L241.75,263.88 L242.43,263.95 L243.11,264.01 L243.78,264.08 L244.46,264.14 L245.14,264.20 L245.82,264.27 L246.50,264.33 L247.17,264.39 L247.85,264.45 L248.53,264.51 L249.21,264.57 L249.88,264.63 L250.56,264.69 L251.24,264.75 L251.92,264.81 L252.60,264.87 L253.27,264.93 L253.95,264.99 L254.63,265.05 L255.31,265.10 L255.98,265.16 L256.66,265.22 L257.34,265.27 L258.02,265.33 L258.69,265.38 L259.37,265.44 L260.05,265.49 L260.73,265.55 L261.41,265.60 L262.08,265.66 L262.76,265.71 L263.44,265.76 L264.12,265.82 L264.79,265.87 L265.47,265.92 L266.15,265.97 L266.83,266.03 L267.50,266.08 L268.18,266.13 L268.86,266.18 L269.54,266.23 L270.22,266.28 L270.89,266.33 L271.57,266.38 L272.25,266.43 L272.93,266.48 L273.60,266.53 L274.28,266.57 L274.96,266.62 L275.64,266.67 L276.31,266.72 L276.99,266.76 L277.67,266.81 L278.35,266.86 L279.03,266.90 L279.70,266.95 L280.38,267.00 L281.06,267.04 L281.74,267.09 L282.41,267.13 L283.09,267.18 L283.77,267.22 L284.45,267.27 L285.13,267.31 L285.80,267.36 L286.48,267.40 L287.16,267.44 L287.84,267.49 L288.51,267.53 L289.19,267.57 L289.87,267.61 L290.55,267.66 L291.22,267.70 L291.90,267.74 L292.58,267.78 L293.26,267.82 L293.94,267.87 L294.61,267.91 L295.29,267.95 L295.97,267.99 L296.65,268.03 L297.32,268.07 L298.00,268.11 L298.68,268.15 L299.36,268.19 L300.03,268.23 L300.71,268.27 L301.39,268.30 L302.07,268.34 L302.75,268.38 L303.42,268.42 L304.10,268.46 L304.78,268.50 L305.46,268.53 L306.13,268.57 L306.81,268.61 L307.49,268.65 L308.17,268.68 L308.84,268.72 L309.52,268.76 L310.20,268.79 L310.88,268.83 L311.56,268.86 L312.23,268.90 L312.91,268.94 L313.59,268.97 L314.27,269.01 L314.94,269.04 L315.62,269.08 L316.30,269.11 L316.98,269.15 L317.66,269.18 L318.33,269.21 L319.01,269.25 L319.69,269.28 L320.37,269.32 L321.04,269.35 L321.72,269.38 L322.40,269.42 L323.08,269.45 L323.75,269.48 L324.43,269.52 L325.11,269.55" fill="none" stroke="#1ea31e" stroke-width="1.8" stroke-linejoin="round"/>
<path d="M387.34,108.94 L590.96,296.83" fill="none" stroke="#dc2024" stroke-width="1.8" stroke-linejoin="round"/>
<path d="M421.55,15.18 L422.23,26.81 L422.91,37.45 L423.59,47.23 L424.26,56.25 L424.94,64.59 L425.62,72.32 L426.30,79.52 L426.98,86.23 L427.65,92.50 L428.33,98.38 L429.01,103.89 L429.69,109.08 L430.36,113.97 L431.04,118.58 L431.72,122.95 L432.40,127.08 L433.08,130.99 L433.75,134.71 L434.43,138.25 L435.11,141.62 L435.79,144.82 L436.46,147.88 L437.14,150.81 L437.82,153.61 L438.50,156.28 L439.17,158.84 L439.85,161.30 L440.53,163.66 L441.21,165.93 L441.89,168.11 L442.56,170.20 L443.24,172.22 L443.92,174.16 L444.60,176.04 L445.27,177.85 L445.95,179.59 L446.63,181.28 L447.31,182.90 L447.98,184.48 L448.66,186.00 L449.34,187.48 L450.02,188.91 L450.70,190.29 L451.37,191.64 L452.05,192.94 L452.73,194.20 L453.41,195.43 L454.08,196.62 L454.76,197.78 L455.44,198.90 L456.12,200.00 L456.79,201.06 L457.47,202.10 L458.15,203.11 L458.83,204.09 L459.51,205.05 L460.18,205.98 L460.86,206.89 L461.54,207.78 L462.22,208.64 L462.89,209.49 L463.57,210.31 L464.25,211.12 L464.93,211.90 L465.61,212.67 L466.28,213.42 L466.96,214.16 L467.64,214.87 L468.32,215.57 L468.99,216.26 L469.67,216.93 L470.35,217.59 L471.03,218.23 L471.70,218.86 L472.38,219.48 L473.06,220.08 L473.74,220.67 L474.42,221.25 L475.09,221.82 L475.77,222.38 L476.45,222.92 L477.13,223.46 L477.80,223.98 L478.48,224.50 L479.16,225.00 L479.84,225.50 L480.51,225.99 L481.19,226.47 L481.87,226.93 L482.55,227.40 L483.23,227.85 L483.90,228.29 L484.58,228.73 L485.26,229.16 L485.94,229.58 L486.61,230.00 L487.29,230.41 L487.97,230.81 L488.65,231.20 L489.32,231.59 L490.00,231.97 L490.68,232.35 L491.36,232.72 L492.04,233.08 L492.71,233.44 L493.39,233.79 L494.07,234.14 L494.75,234.48 L495.42,234.82 L496.10,235.15 L496.78,235.47 L497.46,235.80 L498.14,236.11 L498.81,236.42 L499.49,236.73 L500.17,237.04 L500.85,237.33 L501.52,237.63 L502.20,237.92 L502.88,238.20 L503.56,238.49 L504.23,238.76 L504.91,239.04 L505.59,239.31 L506.27,239.58 L506.95,239.84 L507.62,240.10 L508.30,240.35 L508.98,240.61 L509.66,240.86 L510.33,241.10 L511.01,241.35 L511.69,241.59 L512.37,241.82 L513.04,242.06 L513.72,242.29 L514.40,242.51 L515.08,242.74 L515.76,242.96 L516.43,243.18 L517.11,243.40 L517.79,243.61 L518.47,243.82 L519.14,244.03 L519.82,244.24 L520.50,244.44 L521.18,244.64 L521.86,244.84 L522.53,245.04 L523.21,245.23 L523.89,245.43 L524.57,245.62 L525.24,245.80 L525.92,245.99 L526.60,246.17 L527.28,246.35 L527.95,246.53 L528.63,246.71 L529.31,246.89 L529.99,247.06 L530.67,247.23 L531.34,247.40 L532.02,247.57 L532.70,247.74 L533.38,247.90 L534.05,248.06 L534.73,248.23 L535.41,248.38 L536.09,248.54 L536.76,248.70 L537.44,248.85 L538.12,249.00 L538.80,249.16 L539.48,249.31 L540.15,249.45 L540.83,249.60 L541.51,249.75 L542.19,249.89 L542.86,250.03 L543.54,250.17 L544.22,250.31 L544.90,250.45 L545.57,250.59 L546.25,250.72 L546.93,250.86 L547.61,250.99 L548.29,251.12 L548.96,251.25 L549.64,251.38 L550.32,251.51 L551.00,251.63 L551.67,251.76 L552.35,251.88 L553.03,252.01 L553.71,252.13 L554.39,252.25 L555.06,252.37 L555.74,252.49 L556.42,252.60 L557.10,252.72 L557.77,252.84 L558.45,252.95 L559.13,253.06 L559.81,253.18 L560.48,253.29 L561.16,253.40 L561.84,253.51 L562.52,253.62 L563.20,253.72 L563.87,253.83 L564.55,253.94 L565.23,254.04 L565.91,254.15 L566.58,254.25 L567.26,254.35 L567.94,254.45 L568.62,254.55 L569.29,254.65 L569.97,254.75 L570.65,254.85 L571.33,254.95 L572.01,255.04 L572.68,255.14 L573.36,255.23 L574.04,255.33 L574.72,255.42 L575.39,255.51 L576.07,255.60 L576.75,255.70 L577.43,255.79 L578.10,255.88 L578.78,255.96 L579.46,256.05 L580.14,256.14 L580.82,256.23 L581.49,256.31 L582.17,256.40 L582.85,256.48 L583.53,256.57 L584.20,256.65 L584.88,256.73 L585.56,256.82 L586.24,256.90 L586.92,256.98 L587.59,257.06 L588.27,257.14 L588.95,257.22 L589.63,257.30 L590.30,257.38 L590.98,257.45 L591.66,257.53 L592.34,257.61 L593.01,257.68 L593.69,257.76 L594.37,257.83 L595.05,257.91 L595.73,257.98 L596.40,258.05 L597.08,258.13 L597.76,258.20 L598.44,258.27 L599.11,258.34 L599.79,258.41 L600.47,258.48 L601.15,258.55 L601.82,258.62 L602.50,258.69 L603.18,258.76 L603.86,258.82 L604.54,258.89 L605.21,258.96 L605.89,259.02 L606.57,259.09 L607.25,259.16 L607.92,259.22 L608.60,259.28 L609.28,259.35 L609.96,259.41 L610.63,259.48 L611.31,259.54 L611.99,259.60 L612.67,259.66 L613.35,259.72 L614.02,259.79 L614.70,259.85 L615.38,259.91 L616.06,259.97 L616.73,260.03 L617.41,260.09 L618.09,260.14 L618.77,260.20 L619.45,260.26 L620.12,260.32 L620.80,260.38 L621.48,260.43 L622.16,260.49 L622.83,260.55 L623.51,260.60 L624.19,260.66 L624.87,260.71 L625.54,260.77 L626.22,260.82 L626.90,260.88 L627.58,260.93 L628.26,260.98 L628.93,261.04 L629.61,261.09 L630.29,261.14 L630.97,261.19 L631.64,261.25 L632.32,261.30 L633.00,261.35 L633.68,261.40 L634.35,261.45 L635.03,261.50 L635.71,261.55 L636.39,261.60 L637.07,261.65 L637.74,261.70 L638.42,261.75 L639.10,261.80 L639.78,261.85 L640.45,261.89 L641.13,261.94 L641.81,261.99 L642.49,262.04 L643.16,262.08 L643.84,262.13 L644.52,262.18 L645.20,262.22 L645.88,262.27 L646.55,262.32 L647.23,262.36 L647.91,262.41 L648.59,262.45 L649.26,262.50 L649.94,262.54 L650.62,262.58 L651.30,262.63 L651.98,262.67 L652.65,262.72 L653.33,262.76 L654.01,262.80 L654.69,262.84 L655.36,262.89 L656.04,262.93 L656.72,262.97 L657.40,263.01 L658.07,263.05 L658.75,263.10 L659.43,263.14 L660.11,263.18 L660.79,263.22 L661.46,263.26 L662.14,263.30 L662.82,263.34 L663.50,263.38 L664.17,263.42 L664.85,263.46 L665.53,263.50 L666.21,263.54 L666.88,263.58 L667.56,263.61 L668.24,263.65 L668.92,263.69 L669.60,263.73 L670.27,263.77 L670.95,263.80 L671.63,263.84 L672.31,263.88 L672.98,263.92 L673.66,263.95 L674.34,263.99 L675.02,264.03 L675.69,264.06 L676.37,264.10 L677.05,264.13 L677.73,264.17 L678.41,264.21 L679.08,264.24 L679.76,264.28 L680.44,264.31 L681.12,264.35 L681.79,264.38 L682.47,264.42 L683.15,264.45 L683.83,264.48 L684.51,264.52 L685.18,264.55 L685.86,264.59 L686.54,264.62 L687.22,264.65 L687.89,264.69 L688.57,264.72 L689.25,264.75 L689.93,264.78 L690.60,264.82 L691.28,264.85 L691.96,264.88" fill="none" stroke="#1ea31e" stroke-width="1.8" stroke-linejoin="round"/>
<path d="M387.95,32.37 L388.67,35.08 L389.39,37.74 L390.10,40.37 L390.82,42.95 L391.54,45.50 L392.26,48.01 L392.97,50.48 L393.69,52.91 L394.41,55.31 L395.13,57.67 L395.85,60.00 L396.56,62.30 L397.28,64.56 L398.00,66.79 L398.72,68.99 L399.43,71.16 L400.15,73.30 L400.87,75.41 L401.59,77.50 L402.31,79.55 L403.02,81.57 L403.74,83.57 L404.46,85.54 L405.18,87.49 L405.89,89.41 L406.61,91.30 L407.33,93.18 L408.05,95.02 L408.77,96.85 L409.48,98.65 L410.20,100.42 L410.92,102.18 L411.64,103.91 L412.35,105.62 L413.07,107.31 L413.79,108.98 L414.51,110.63 L415.23,112.26 L415.94,113.87 L416.66,115.46 L417.38,117.03 L418.10,118.59 L418.81,120.12 L419.53,121.64 L420.25,123.14 L420.97,124.62 L421.69,126.09 L422.40,127.54 L423.12,128.97 L423.84,130.38 L424.56,131.78 L425.27,133.17 L425.99,134.54 L426.71,135.89 L427.43,137.23 L428.15,138.56 L428.86,139.87 L429.58,141.16 L430.30,142.45 L431.02,143.72 L431.73,144.97 L432.45,146.21 L433.17,147.44 L433.89,148.66 L434.61,149.86 L435.32,151.05 L436.04,152.23 L436.76,153.40 L437.48,154.55 L438.19,155.70 L438.91,156.83 L439.63,157.95 L440.35,159.06 L441.07,160.16 L441.78,161.24 L442.50,162.32 L443.22,163.39 L443.94,164.44 L444.65,165.49 L445.37,166.52 L446.09,167.55 L446.81,168.56 L447.53,169.57 L448.24,170.57 L448.96,171.55 L449.68,172.53 L450.40,173.50 L451.11,174.46 L451.83,175.41 L452.55,176.35 L453.27,177.29 L453.99,178.21 L454.70,179.13 L455.42,180.04 L456.14,180.94 L456.86,181.83 L457.57,182.71 L458.29,183.59 L459.01,184.46 L459.73,185.32 L460.45,186.17 L461.16,187.02 L461.88,187.86 L462.60,188.69 L463.32,189.51 L464.03,190.33 L464.75,191.14 L465.47,191.94 L466.19,192.74 L466.91,193.53 L467.62,194.31 L468.34,195.09 L469.06,195.86 L469.78,196.63 L470.49,197.38 L471.21,198.13 L471.93,198.88 L472.65,199.62 L473.37,200.35 L474.08,201.08 L474.80,201.80 L475.52,202.52 L476.24,203.23 L476.95,203.93 L477.67,204.63 L478.39,205.32 L479.11,206.01 L479.83,206.69 L480.54,207.37 L481.26,208.04 L481.98,208.71 L482.70,209.37 L483.41,210.03 L484.13,210.68 L484.85,211.32 L485.57,211.96 L486.29,212.60 L487.00,213.23 L487.72,213.86 L488.44,214.48 L489.16,215.10 L489.87,215.71 L490.59,216.32 L491.31,216.93 L492.03,217.53 L492.75,218.12 L493.46,218.71 L494.18,219.30 L494.90,219.88 L495.62,220.46 L496.33,221.03 L497.05,221.60 L497.77,222.17 L498.49,222.73 L499.21,223.29 L499.92,223.84 L500.64,224.39 L501.36,224.94 L502.08,225.48 L502.79,226.02 L503.51,226.56 L504.23,227.09 L504.95,227.62 L505.67,228.14 L506.38,228.66 L507.10,229.18 L507.82,229.69 L508.54,230.20 L509.25,230.71 L509.97,231.21 L510.69,231.71 L511.41,232.21 L512.13,232.70 L512.84,233.19 L513.56,233.67 L514.28,234.16 L515.00,234.64 L515.71,235.11 L516.43,235.59 L517.15,236.06 L517.87,236.53 L518.59,236.99 L519.30,237.45 L520.02,237.91 L520.74,238.37 L521.46,238.82 L522.17,239.27 L522.89,239.72 L523.61,240.16 L524.33,240.60 L525.05,241.04 L525.76,241.48 L526.48,241.91 L527.20,242.34 L527.92,242.77 L528.63,243.20 L529.35,243.62 L530.07,244.04 L530.79,244.46 L531.51,244.87 L532.22,245.28 L532.94,245.69 L533.66,246.10 L534.38,246.51 L535.09,246.91 L535.81,247.31 L536.53,247.71 L537.25,248.10 L537.97,248.49 L538.68,248.89 L539.40,249.27 L540.12,249.66 L540.84,250.04 L541.55,250.43 L542.27,250.80 L542.99,251.18 L543.71,251.56 L544.43,251.93 L545.14,252.30 L545.86,252.67 L546.58,253.04 L547.30,253.40 L548.01,253.76 L548.73,254.12 L549.45,254.48 L550.17,254.84 L550.89,255.19 L551.60,255.54 L552.32,255.89 L553.04,256.24 L553.76,256.59 L554.47,256.93 L555.19,257.27 L555.91,257.61 L556.63,257.95 L557.35,258.29 L558.06,258.62 L558.78,258.96 L559.50,259.29 L560.22,259.62 L560.93,259.95 L561.65,260.27 L562.37,260.60 L563.09,260.92 L563.81,261.24 L564.52,261.56 L565.24,261.87 L565.96,262.19 L566.68,262.50 L567.39,262.82 L568.11,263.13 L568.83,263.44 L569.55,263.74 L570.27,264.05 L570.98,264.35 L571.70,264.66 L572.42,264.96 L573.14,265.26 L573.86,265.55 L574.57,265.85 L575.29,266.14 L576.01,266.44 L576.73,266.73 L577.44,267.02 L578.16,267.31 L578.88,267.60 L579.60,267.88 L580.32,268.17 L581.03,268.45 L581.75,268.73 L582.47,269.01 L583.19,269.29 L583.90,269.57 L584.62,269.84 L585.34,270.12 L586.06,270.39 L586.78,270.66 L587.49,270.93 L588.21,271.20 L588.93,271.47 L589.65,271.74 L590.36,272.00 L591.08,272.27 L591.80,272.53 L592.52,272.79 L593.24,273.05 L593.95,273.31 L594.67,273.57 L595.39,273.82 L596.11,274.08 L596.82,274.33 L597.54,274.58 L598.26,274.84 L598.98,275.09 L599.70,275.34 L600.41,275.58 L601.13,275.83 L601.85,276.08 L602.57,276.32 L603.28,276.56 L604.00,276.81 L604.72,277.05 L605.44,277.29 L606.16,277.53 L606.87,277.76 L607.59,278.00 L608.31,278.24 L609.03,278.47 L609.74,278.70 L610.46,278.94 L611.18,279.17 L611.90,279.40 L612.62,279.63 L613.33,279.85 L614.05,280.08 L614.77,280.31 L615.49,280.53 L616.20,280.76 L616.92,280.98 L617.64,281.20 L618.36,281.42 L619.08,281.64 L619.79,281.86 L620.51,282.08 L621.23,282.30 L621.95,282.51 L622.66,282.73 L623.38,282.94 L624.10,283.16 L624.82,283.37 L625.54,283.58 L626.25,283.79 L626.97,284.00 L627.69,284.21 L628.41,284.42 L629.12,284.63 L629.84,284.83 L630.56,285.04 L631.28,285.24 L632.00,285.44 L632.71,285.65 L633.43,285.85 L634.15,286.05 L634.87,286.25 L635.58,286.45 L636.30,286.65 L637.02,286.84 L637.74,287.04 L638.46,287.24 L639.17,287.43 L639.89,287.63 L640.61,287.82 L641.33,288.01 L642.04,288.20 L642.76,288.40 L643.48,288.59 L644.20,288.77 L644.92,288.96 L645.63,289.15 L646.35,289.34 L647.07,289.52 L647.79,289.71 L648.50,289.90 L649.22,290.08 L649.94,290.26 L650.66,290.44 L651.38,290.63 L652.09,290.81 L652.81,290.99 L653.53,291.17 L654.25,291.35 L654.96,291.52 L655.68,291.70 L656.40,291.88 L657.12,292.06 L657.84,292.23 L658.55,292.41 L659.27,292.58 L659.99,292.75 L660.71,292.93 L661.42,293.10 L662.14,293.27 L662.86,293.44 L663.58,293.61 L664.30,293.78 L665.01,293.95 L665.73,294.11 L666.45,294.28 L667.17,294.45 L667.88,294.61 L668.60,294.78 L669.32,294.94 L670.04,295.11 L670.76,295.27 L671.47,295.44 L672.19,295.60 L672.91,295.76 L673.63,295.92 L674.34,296.08" fill="none" stroke="#1818d0" stroke-width="1.8" stroke-linejoin="round"/>
<circle cx="71.60" cy="159.43" r="1.7" fill="#000"/>
<circle cx="172.60" cy="253.77" r="1.7" fill="#000"/>
<circle cx="438.45" cy="156.10" r="1.7" fill="#000"/>
<circle cx="539.45" cy="249.30" r="1.7" fill="#000"/>
<text class="t" x="14.95" y="326.60" font-family="Liberation Sans" font-size="8.2" fill="#1e1e1e">0.0</text>
<text class="t" x="55.00" y="326.60" font-family="Liberation Sans" font-size="8.2" fill="#1e1e1e">0.2</text>
<text class="t" x="95.91" y="326.60" font-family="Liberation Sans" font-size="8.2" fill="#1e1e1e">0.4</text>
<text class="t" x="135.97" y="326.60" font-family="Liberation Sans" font-size="8.2" fill="#1e1e1e">0.6</text>
<text class="t" x="175.97" y="326.60" font-family="Liberation Sans" font-size="8.2" fill="#1e1e1e">0.8</text>
<text class="t" x="216.80" y="326.60" font-family="Liberation Sans" font-size="8.2" fill="#1e1e1e">1.0</text>
<text class="t" x="256.84" y="326.60" font-family="Liberation Sans" font-size="8.2" fill="#1e1e1e">1.2</text>
<text class="t" x="297.76" y="326.60" font-family="Liberation Sans" font-size="8.2" fill="#1e1e1e">1.4</text>
<text class="t" x="-0.18" y="303.35" font-family="Liberation Sans" font-size="8.2" fill="#1e1e1e">0.0</text>
<text class="t" x="-0.15" y="208.95" font-family="Liberation Sans" font-size="8.2" fill="#1e1e1e">0.5</text>
<text class="t" x="-0.18" y="114.28" font-family="Liberation Sans" font-size="8.2" fill="#1e1e1e">1.0</text>
<text class="t" x="-0.15" y="19.45" font-family="Liberation Sans" font-size="8.2" fill="#1e1e1e">1.5</text>
<text class="t" x="380.95" y="325.50" font-family="Liberation Sans" font-size="8.2" fill="#1e1e1e">0.0</text>
<text class="t" x="422.00" y="325.50" font-family="Liberation Sans" font-size="8.2" fill="#1e1e1e">0.2</text>
<text class="t" x="461.91" y="325.50" font-family="Liberation Sans" font-size="8.2" fill="#1e1e1e">0.4</text>
<text class="t" x="502.97" y="325.50" font-family="Liberation Sans" font-size="8.2" fill="#1e1e1e">0.6</text>
<text class="t" x="542.97" y="325.50" font-family="Liberation Sans" font-size="8.2" fill="#1e1e1e">0.8</text>
<text class="t" x="583.80" y="325.50" font-family="Liberation Sans" font-size="8.2" fill="#1e1e1e">1.0</text>
<text class="t" x="623.84" y="325.50" font-family="Liberation Sans" font-size="8.2" fill="#1e1e1e">1.2</text>
<text class="t" x="664.76" y="325.50" font-family="Liberation Sans" font-size="8.2" fill="#1e1e1e">1.4</text>
<text class="t" x="366.92" y="298.45" font-family="Liberation Sans" font-size="8.2" fill="#1e1e1e">0.0</text>
<text class="t" x="366.95" y="204.95" font-family="Liberation Sans" font-size="8.2" fill="#1e1e1e">0.5</text>
<text class="t" x="366.92" y="111.30" font-family="Liberation Sans" font-size="8.2" fill="#1e1e1e">1.0</text>
<text class="t" x="366.95" y="18.45" font-family="Liberation Sans" font-size="8.2" fill="#1e1e1e">1.5</text>
<text x="35.40" y="81.48" font-family="Liberation Serif" font-size="12.5" font-style="italic" fill="#1e1e1e" class="b">D</text>
<text x="44.78" y="83.00" font-family="Liberation Serif" font-size="8.2" fill="#222">4</text>
<text x="180.80" y="143.38" font-family="Liberation Serif" font-size="12.5" font-style="italic" fill="#1e1e1e" class="b">D</text>
<text x="190.05" y="145.41" font-family="Liberation Serif" font-size="8.2" fill="#222">2</text>
<text x="106.35" y="214.98" font-family="Liberation Serif" font-size="12.5" font-style="italic" fill="#1e1e1e" class="b">D</text>
<text x="115.56" y="217.27" font-family="Liberation Serif" font-size="8.2" fill="#222">3</text>
<text x="64.25" y="250.58" font-family="Liberation Serif" font-size="12.5" font-style="italic" fill="#1e1e1e" class="b">D</text>
<text x="73.09" y="252.46" font-family="Liberation Serif" font-size="8.2" fill="#222">1</text>
<text x="244.85" y="286.68" font-family="Liberation Serif" font-size="12.5" font-style="italic" fill="#1e1e1e" class="b">D</text>
<text x="253.93" y="288.20" font-family="Liberation Serif" font-size="8.2" fill="#222">4</text>
<text x="527.71" y="166.09" font-family="Liberation Serif" font-size="12.5" font-style="italic" fill="#1e1e1e" class="b">E</text>
<text x="535.55" y="168.21" font-family="Liberation Serif" font-size="8.2" fill="#222">2</text>
<text x="435.86" y="256.19" font-family="Liberation Serif" font-size="12.5" font-style="italic" fill="#1e1e1e" class="b">E</text>
<text x="443.59" y="258.61" font-family="Liberation Serif" font-size="8.2" fill="#222">1</text>
<text x="77.08" y="152.05" font-family="Liberation Serif" font-size="12.0" font-style="italic" fill="#1e1e1e" class="b">p</text>
<text x="173.49" y="243.25" font-family="Liberation Serif" font-size="12.0" font-style="italic" fill="#1e1e1e" class="b">q</text>
<text x="444.18" y="146.95" font-family="Liberation Serif" font-size="12.0" font-style="italic" fill="#1e1e1e" class="b">p</text>
<text x="543.84" y="239.90" font-family="Liberation Serif" font-size="12.0" font-style="italic" fill="#1e1e1e" class="b">q</text>
<text x="152.42" y="359.40" font-family="Liberation Serif" font-size="19.3" fill="#1e1e1e">(</text>
<text transform="translate(163.10,358.50) scale(1.1,1)" x="-3.68" y="0" font-family="Liberation Serif" font-size="15.8" fill="#1e1e1e">a</text>
<text x="167.35" y="359.40" font-family="Liberation Serif" font-size="19.3" fill="#1e1e1e">)</text>
<text x="517.57" y="359.40" font-family="Liberation Serif" font-size="19.3" fill="#1e1e1e">(</text>
<text transform="translate(528.90,358.40) scale(1.08,1)" x="-3.74" y="0" font-family="Liberation Serif" font-size="16.2" fill="#1e1e1e">b</text>
<text x="533.30" y="359.40" font-family="Liberation Serif" font-size="19.3" fill="#1e1e1e">)</text>
<path d="M212,32 H231 " stroke="#dc2024" stroke-width="2"/>
<path d="M212,52.8 H231" stroke="#1ea31e" stroke-width="2"/>
<text x="235.36" y="34.50" font-family="Liberation Sans" font-size="8.6" font-style="italic" fill="#1e1e1e" class="l">a</text>
<text x="241.49" y="34.50" font-family="Liberation Sans" font-size="8.6" fill="#1e1e1e" class="l">+</text>
<text x="248.08" y="34.50" font-family="Liberation Sans" font-size="8.6" font-style="italic" fill="#1e1e1e" class="l">b</text>
<text x="254.99" y="34.50" font-family="Liberation Sans" font-size="8.6" fill="#1e1e1e" class="l">−</text>
<text x="261.09" y="34.50" font-family="Liberation Sans" font-size="8.6" fill="#1e1e1e" class="l">1</text>
<text transform="translate(272.90,34.50) scale(1.2,1)" x="-2.51" y="0" font-family="Liberation Sans" font-size="8.6" fill="#1e1e1e" class="l">=</text>
<text x="279.51" y="34.50" font-family="Liberation Sans" font-size="8.6" fill="#1e1e1e" class="l">0</text>
<text x="235.51" y="55.35" font-family="Liberation Sans" font-size="8.6" font-style="italic" fill="#1e1e1e" class="l">a</text>
<text x="242.08" y="55.35" font-family="Liberation Sans" font-size="8.6" font-style="italic" fill="#1e1e1e" class="l">b</text>
<text x="248.59" y="55.35" font-family="Liberation Sans" font-size="8.6" font-weight="bold" fill="#1e1e1e" class="l">−</text>
<text x="266.73" y="55.35" font-family="Liberation Sans" font-size="8.6" fill="#1e1e1e" class="l">(</text>
<text x="270.36" y="55.35" font-family="Liberation Sans" font-size="8.6" font-style="italic" fill="#1e1e1e" class="l">a</text>
<text x="276.59" y="55.35" font-family="Liberation Sans" font-size="8.6" fill="#1e1e1e" class="l">+</text>
<text x="283.38" y="55.35" font-family="Liberation Sans" font-size="8.6" font-style="italic" fill="#1e1e1e" class="l">b</text>
<text x="289.69" y="55.35" font-family="Liberation Sans" font-size="8.6" fill="#1e1e1e" class="l">+</text>
<text x="296.19" y="55.35" font-family="Liberation Sans" font-size="8.6" fill="#1e1e1e" class="l">1</text>
<text x="301.71" y="55.35" font-family="Liberation Sans" font-size="8.6" fill="#1e1e1e" class="l">)</text>
<text transform="translate(310.90,55.35) scale(1.2,1)" x="-2.51" y="0" font-family="Liberation Sans" font-size="8.6" fill="#1e1e1e" class="l">=</text>
<text x="317.11" y="55.35" font-family="Liberation Sans" font-size="8.6" fill="#1e1e1e" class="l">0</text>
<path d="M257.2,53.2 H264.7" stroke="#444" stroke-width="0.8"/>
<text class="fr" x="258.74" y="49.80" font-family="Liberation Sans" font-size="6.4" fill="#1a1a1a">3</text>
<text class="fr" x="256.83" y="61.30" font-family="Liberation Sans" font-size="6.4" fill="#1a1a1a">32</text>
<path d="M548.1,31.55 H567.1 " stroke="#dc2024" stroke-width="2"/>
<path d="M548.1,52.349999999999994 H567.1" stroke="#1ea31e" stroke-width="2"/>
<text x="571.46" y="34.05" font-family="Liberation Sans" font-size="8.6" font-style="italic" fill="#1e1e1e" class="l">a</text>
<text x="577.59" y="34.05" font-family="Liberation Sans" font-size="8.6" fill="#1e1e1e" class="l">+</text>
<text x="584.18" y="34.05" font-family="Liberation Sans" font-size="8.6" font-style="italic" fill="#1e1e1e" class="l">b</text>
<text x="591.09" y="34.05" font-family="Liberation Sans" font-size="8.6" fill="#1e1e1e" class="l">−</text>
<text x="597.19" y="34.05" font-family="Liberation Sans" font-size="8.6" fill="#1e1e1e" class="l">1</text>
<text transform="translate(609.00,34.05) scale(1.2,1)" x="-2.51" y="0" font-family="Liberation Sans" font-size="8.6" fill="#1e1e1e" class="l">=</text>
<text x="615.61" y="34.05" font-family="Liberation Sans" font-size="8.6" fill="#1e1e1e" class="l">0</text>
<text x="571.61" y="54.90" font-family="Liberation Sans" font-size="8.6" font-style="italic" fill="#1e1e1e" class="l">a</text>
<text x="578.18" y="54.90" font-family="Liberation Sans" font-size="8.6" font-style="italic" fill="#1e1e1e" class="l">b</text>
<text x="584.69" y="54.90" font-family="Liberation Sans" font-size="8.6" font-weight="bold" fill="#1e1e1e" class="l">−</text>
<text x="602.83" y="54.90" font-family="Liberation Sans" font-size="8.6" fill="#1e1e1e" class="l">(</text>
<text x="606.46" y="54.90" font-family="Liberation Sans" font-size="8.6" font-style="italic" fill="#1e1e1e" class="l">a</text>
<text x="612.69" y="54.90" font-family="Liberation Sans" font-size="8.6" fill="#1e1e1e" class="l">+</text>
<text x="619.48" y="54.90" font-family="Liberation Sans" font-size="8.6" font-style="italic" fill="#1e1e1e" class="l">b</text>
<text x="625.79" y="54.90" font-family="Liberation Sans" font-size="8.6" fill="#1e1e1e" class="l">+</text>
<text x="632.29" y="54.90" font-family="Liberation Sans" font-size="8.6" fill="#1e1e1e" class="l">1</text>
<text x="637.81" y="54.90" font-family="Liberation Sans" font-size="8.6" fill="#1e1e1e" class="l">)</text>
<text transform="translate(647.00,54.90) scale(1.2,1)" x="-2.51" y="0" font-family="Liberation Sans" font-size="8.6" fill="#1e1e1e" class="l">=</text>
<text x="653.21" y="54.90" font-family="Liberation Sans" font-size="8.6" fill="#1e1e1e" class="l">0</text>
<path d="M593.3,52.75 H600.8" stroke="#444" stroke-width="0.8"/>
<text class="fr" x="594.84" y="49.35" font-family="Liberation Sans" font-size="6.4" fill="#1a1a1a">3</text>
<text class="fr" x="592.93" y="60.85" font-family="Liberation Sans" font-size="6.4" fill="#1a1a1a">32</text>
<path d="M548,76.6 H567" stroke="#1818d0" stroke-width="2"/>
<text x="571.21" y="79.30" font-family="Liberation Sans" font-size="8.6" fill="#1e1e1e" class="l">2</text>
<text x="578.16" y="79.30" font-family="Liberation Sans" font-size="8.6" font-style="italic" fill="#1e1e1e" class="l">a</text>
<text x="585.08" y="79.30" font-family="Liberation Sans" font-size="8.6" font-style="italic" fill="#1e1e1e" class="l">b</text>
<text x="591.39" y="79.30" font-family="Liberation Sans" font-size="8.6" fill="#1e1e1e" class="l">+</text>
<text x="609.43" y="79.30" font-family="Liberation Sans" font-size="8.6" fill="#1e1e1e" class="l">(</text>
<text x="613.01" y="79.30" font-family="Liberation Sans" font-size="8.6" fill="#1e1e1e" class="l">2</text>
<text x="617.91" y="79.30" font-family="Liberation Sans" font-size="8.6" fill="#1e1e1e" class="l">9</text>
<text x="624.53" y="79.30" font-family="Liberation Sans" font-size="8.6" fill="#1e1e1e" class="l">(</text>
<text x="627.86" y="79.30" font-family="Liberation Sans" font-size="8.6" font-style="italic" fill="#1e1e1e" class="l">a</text>
<text x="634.39" y="79.30" font-family="Liberation Sans" font-size="8.6" fill="#1e1e1e" class="l">+</text>
<text x="641.48" y="79.30" font-family="Liberation Sans" font-size="8.6" font-style="italic" fill="#1e1e1e" class="l">b</text>
<text x="646.51" y="79.30" font-family="Liberation Sans" font-size="8.6" fill="#1e1e1e" class="l">)</text>
<text x="650.49" y="79.30" font-family="Liberation Sans" font-size="8.6" fill="#1e1e1e" class="l">−</text>
<text x="657.14" y="79.30" font-family="Liberation Sans" font-size="8.6" fill="#1e1e1e" class="l">4</text>
<text x="661.89" y="79.30" font-family="Liberation Sans" font-size="8.6" fill="#1e1e1e" class="l">1</text>
<text x="668.21" y="79.30" font-family="Liberation Sans" font-size="8.6" fill="#1e1e1e" class="l">)</text>
<text transform="translate(677.10,79.30) scale(1.2,1)" x="-2.51" y="0" font-family="Liberation Sans" font-size="8.6" fill="#1e1e1e" class="l">=</text>
<text x="683.41" y="79.30" font-family="Liberation Sans" font-size="8.6" fill="#1e1e1e" class="l">0</text>
<path d="M600.1,76.9 H607.9" stroke="#444" stroke-width="0.8"/>
<text class="fr" x="601.63" y="73.80" font-family="Liberation Sans" font-size="6.4" fill="#1a1a1a">1</text>
<text class="fr" x="599.78" y="84.40" font-family="Liberation Sans" font-size="6.4" fill="#1a1a1a">32</text>
</g></svg>
</body></html>
